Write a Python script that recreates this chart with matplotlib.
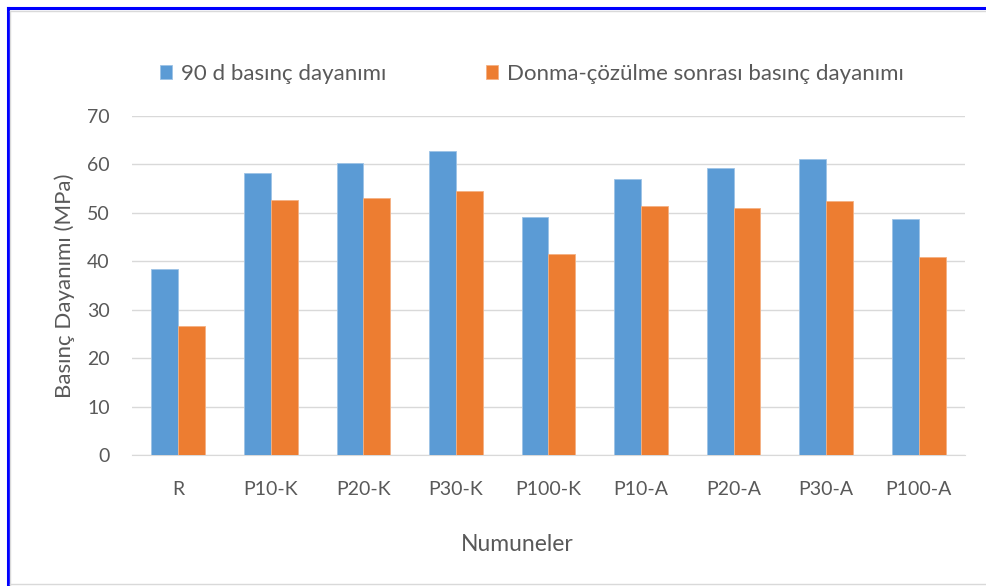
import matplotlib.pyplot as plt
from matplotlib.lines import Line2D
import numpy as np

categories = ["R", "P10-K", "P20-K", "P30-K", "P100-K", "P10-A", "P20-A", "P30-A", "P100-A"]
strength_90d = [38.4, 58.2, 60.3, 62.7, 49.2, 57.0, 59.2, 61.1, 48.7]
strength_freeze = [26.7, 52.6, 53.0, 54.5, 41.5, 51.4, 51.1, 52.4, 40.8]
series_labels = ["90 d basınç dayanımı", "Donma-çözülme sonrası basınç dayanımı"]
yticks = [0, 10, 20, 30, 40, 50, 60, 70]

plt.rcParams["font.family"] = ["Lato", "DejaVu Sans"]
text_color = "#595959"

W, H = 987, 586
fig = plt.figure(figsize=(W / 100, H / 100), dpi=100)
ax = fig.add_axes([132 / W, 1 - 455 / H, 833 / W, 339 / H])

x = np.arange(len(categories))
w = 0.29
ax.bar(x - w / 2, strength_90d, w, color="#5b9bd5", edgecolor="#9dc3e6", linewidth=0.6,
       label=series_labels[0], zorder=3)
ax.bar(x + w / 2, strength_freeze, w, color="#ed7d31", edgecolor="#f4b183", linewidth=0.6,
       label=series_labels[1], zorder=3)

ax.set_xlim(-0.5, len(categories) - 0.5)
ax.set_ylim(0, 70)
ax.set_yticks(yticks)
ax.set_xticks(x)
ax.set_xticklabels(categories)
ax.grid(axis="y", color="#d9d9d9", lw=1, zorder=0)
for side in ["top", "right", "left"]:
    ax.spines[side].set_visible(False)
ax.spines["bottom"].set_color("#d9d9d9")
ax.tick_params(length=0, labelsize=14, colors=text_color)
ax.tick_params(axis="x", pad=19)
ax.tick_params(axis="y", pad=16)
ax.set_ylabel("Basınç Dayanımı (MPa)", fontsize=16, color=text_color)
ax.set_xlabel("Numuneler", fontsize=16.5, color=text_color)
ax.yaxis.set_label_coords((75 - 132) / 833, 0.5)
ax.xaxis.set_label_coords((517 - 132) / 833, -(534 - 455) / 339)

fig.legend(loc="center", bbox_to_anchor=(532 / W, 1 - 74 / H), ncol=2, frameon=False,
           fontsize=16, handlelength=0.55, handleheight=0.55, handletextpad=0.4,
           columnspacing=4.5, labelcolor=text_color)

# chart frame: blue outline on top/left, light grey inner border
fig.add_artist(Line2D([8 / W, 1], [1 - 8 / H, 1 - 8 / H], transform=fig.transFigure,
                      color="#0000ff", lw=2.2))
fig.add_artist(Line2D([8 / W, 8 / W], [0, 1 - 8 / H], transform=fig.transFigure,
                      color="#0000ff", lw=2.2))
fig.add_artist(Line2D([10.5 / W, 1], [1 - 10.5 / H, 1 - 10.5 / H], transform=fig.transFigure,
                      color="#d9d9d9", lw=1))
fig.add_artist(Line2D([10.5 / W, 10.5 / W], [0, 1 - 10.5 / H], transform=fig.transFigure,
                      color="#d9d9d9", lw=1))
fig.add_artist(Line2D([10.5 / W, 1], [1 - 584 / H, 1 - 584 / H], transform=fig.transFigure,
                      color="#d9d9d9", lw=1))

fig.savefig("out.png", dpi=100)
